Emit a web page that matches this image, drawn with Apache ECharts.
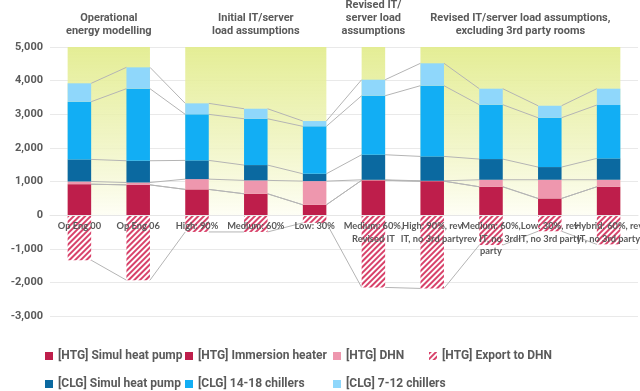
<!DOCTYPE html>
<html><head><meta charset="utf-8">
<script src="https://cdn.jsdelivr.net/npm/echarts@6/dist/echarts.min.js"></script>
<style>html,body{margin:0;padding:0;background:#fff}#c{width:640px;height:391px}</style>
</head><body><div id="c"></div>
<script>
const categories = ['Op Eng 00','Op Eng 06','High: 90%','Medium: 60%','Low: 30%','Medium: 60%,\nRevised IT','High: 90%, rev\nIT, no 3rd party','Medium: 60%,\nrev IT, no 3rd\nparty','Low: 30%, rev\nIT, no 3rd party','Hybrid: 60%, rev\nIT, no 3rd party'];
const htgSimulHP   = [920, 900, 765, 635, 307, 1035, 1010, 843, 496, 843];
const htgImmersion = [0, 0, 0, 0, 0, 0, 0, 0, 0, 0];
const htgDHN       = [80, 70, 306, 398, 705, 15, 10, 209, 556, 209];
const htgExport    = [-1340, -1935, -500, -500, -230, -2150, -2180, -890, -480, -870];
const clgSimulHP   = [657, 647, 557, 455, 218, 746, 726, 615, 377, 635];
const clg1418      = [1716, 2143, 1369, 1378, 1410, 1755, 2103, 1617, 1467, 1587];
const clg712       = [547, 635, 327, 298, 158, 476, 666, 476, 357, 486];
const seriesNames  = ['[HTG] Simul heat pump','[HTG] Immersion heater','[HTG] DHN','[HTG] Export to DHN','[CLG] Simul heat pump','[CLG] 14-18 chillers','[CLG] 7-12 chillers'];
const groupTitles  = ['Operational\nenergy modelling','Initial IT/server\nload assumptions','Revised IT/\nserver load\nassumptions','Revised IT/server load assumptions,\nexcluding 3rd party rooms'];
const groupStart   = [0, 2, 5, 6];
const groupEnd     = [1, 4, 5, 9];
const yMin = -3000, yMax = 5000, yInterval = 1000;

const FONT = 'Roboto, Lato, sans-serif';
const NARROW = 'Lato, Roboto, sans-serif';
const TXT = '#5a5a5a';
const colors = {
  hp: '#be1e4b', imm: '#be1e4b', dhn: '#ee97ae', exp: '#d8426a',
  chp: '#0b69a0', c1418: '#12aef4', c712: '#8fd7fb'
};
const BARW = 0.4;

const posSeries = [htgSimulHP, htgImmersion, htgDHN, clgSimulHP, clg1418, clg712];
function levels(i) {
  let s = 0; const out = [];
  posSeries.forEach(a => { s += a[i]; out.push(s); });
  out.push(htgExport[i]);
  return out;
}

const decal = {symbol:'rect', symbolSize:1, color:colors.exp, dashArrayX:[1,0], dashArrayY:[1.4,1.6], rotation:-Math.PI/4};

function bar(name, data, color, extra) {
  return Object.assign({
    name, type:'bar', stack:'total', data, barWidth:(BARW*100)+'%', z:5,
    itemStyle:{color}, emphasis:{disabled:true}
  }, extra || {});
}

const chart = echarts.init(document.getElementById('c'), null, {renderer:'canvas'});

const legendLayout = [
  {name:seriesNames[0], left:45, top:350},
  {name:seriesNames[1], left:185, top:350},
  {name:seriesNames[2], left:333, top:350},
  {name:seriesNames[3], left:429, top:350},
  {name:seriesNames[4], left:45, top:378},
  {name:seriesNames[5], left:185, top:378},
  {name:seriesNames[6], left:333, top:378}
];

const option = {
  animation:false,
  textStyle:{fontFamily:FONT},
  grid:{left:50, right:2, top:47, bottom:75, containLabel:false, outerBoundsMode:'none'},
  legend: legendLayout.map(l => ({
    data:[l.name], left:l.left, top:l.top, padding:0, itemWidth:8, itemHeight:8, itemGap:0,
    icon:'rect', selectedMode:false,
    textStyle:{fontSize:12, fontWeight:'bold', color:TXT, fontFamily:FONT}
  })),
  xAxis:{
    type:'category', data:categories, z:10,
    axisLine:{show:true, onZero:false, lineStyle:{color:'#e6e6e6'}},
    axisTick:{show:false},
    axisLabel:{interval:0, fontSize:9.3, fontWeight:'bold', color:TXT, lineHeight:12.5, margin:5, fontFamily:NARROW, hideOverlap:false}
  },
  yAxis:{
    type:'value', min:yMin, max:yMax, interval:yInterval,
    name:'Annual thermal load (MWh)', nameLocation:'middle', nameGap:41,
    nameTextStyle:{fontSize:11, fontWeight:'bold', color:TXT, fontFamily:FONT, padding:[0,0,0,18]},
    axisLabel:{fontSize:11, fontWeight:'bold', color:TXT, margin:7, fontFamily:FONT,
      formatter:v => (v < 0 ? '-' : '') + Math.abs(v).toLocaleString('en-US')},
    axisLine:{show:false}, axisTick:{show:false},
    splitLine:{lineStyle:{color:'#e9e9e9', width:1}}
  },
  series:[
    {
      type:'custom', name:'bands', z:1, silent:true,
      data: groupStart.map((s,k) => [s, groupEnd[k], yMax, 0]),
      encode:{x:[0,1], y:[2,3]},
      renderItem:function(params, api){
        const s = api.value(0), e = api.value(1);
        const bw = api.size([1,0])[0]*BARW;
        const pTop = api.coord([s, api.value(2)]);
        const pBot = api.coord([e, api.value(3)]);
        const x0 = pTop[0]-bw/2, x1 = pBot[0]+bw/2;
        return {type:'rect', shape:{x:x0, y:pTop[1], width:x1-x0, height:pBot[1]-pTop[1]},
          style:{fill:new echarts.graphic.LinearGradient(0,0,0,1,[
            {offset:0,color:'rgba(226,236,140,0.92)'},
            {offset:0.5,color:'rgba(236,242,180,0.82)'},
            {offset:1,color:'rgba(254,254,244,0.9)'}])}};
      }
    },
    {
      type:'custom', name:'connectors', z:2, silent:true,
      data: categories.slice(0,-1).map((c,i) => [i, 0]),
      encode:{x:0, y:1},
      renderItem:function(params, api){
        const i = api.value(0);
        const bw = api.size([1,0])[0]*BARW;
        const a = levels(i), b = levels(i+1);
        const children = a.map((v,k) => {
          const p1 = api.coord([i, v]), p2 = api.coord([i+1, b[k]]);
          return {type:'line', shape:{x1:p1[0]+bw/2, y1:p1[1], x2:p2[0]-bw/2, y2:p2[1]},
            style:{stroke:'#b4b4b4', lineWidth:1}};
        });
        return {type:'group', children};
      }
    },
    bar(seriesNames[0], htgSimulHP, colors.hp),
    bar(seriesNames[1], htgImmersion, colors.imm),
    bar(seriesNames[2], htgDHN, colors.dhn),
    bar(seriesNames[3], htgExport, '#ffffff', {itemStyle:{color:'#ffffff', decal:decal}}),
    bar(seriesNames[4], clgSimulHP, colors.chp),
    bar(seriesNames[5], clg1418, colors.c1418),
    bar(seriesNames[6], clg712, colors.c712)
  ]
};
chart.setOption(option);

// place x-axis (and its labels) on the zero line
const yZero = chart.convertToPixel({yAxisIndex:0}, 0);
const yBottom = chart.convertToPixel({yAxisIndex:0}, yMin);
chart.setOption({xAxis:{offset:-(yBottom - yZero)}});

const graphics = groupTitles.map((t,k) => {
  const xs = chart.convertToPixel({xAxisIndex:0}, groupStart[k]);
  const xe = chart.convertToPixel({xAxisIndex:0}, groupEnd[k]);
  return {type:'text', x:(xs+xe)/2, y:38, z:20,
    style:{text:t, fill:TXT, font:'bold 11px '+FONT, align:'center', verticalAlign:'bottom', lineHeight:13}};
});
chart.setOption({graphic:graphics});
</script>
</body></html>
